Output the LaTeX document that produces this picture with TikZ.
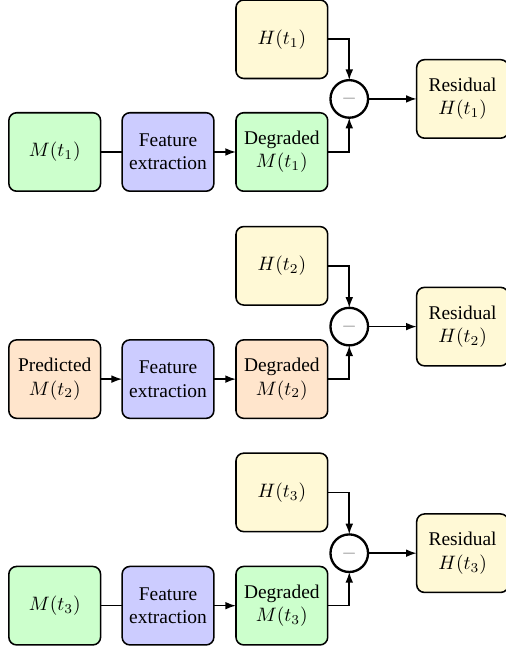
\documentclass[tikz,border=0pt]{standalone}
\usepackage{fontspec}
\setmainfont{Liberation Serif}
\usetikzlibrary{arrows.meta}
\definecolor{cream}{HTML}{FFF9D6}
\begin{document}
\begin{tikzpicture}
  [>={Latex[length=5.5pt,width=4pt]},
   measured/.style={rectangle,rounded corners=4pt,draw=black,fill=green!20,thick,align=center,
                    outer sep=0,minimum width=1.66cm,minimum height=1.42cm},
   feature/.style={rectangle,rounded corners=4pt,draw=black,fill=blue!20,thick,align=center,
                   outer sep=0,minimum width=1.66cm,minimum height=1.42cm},
   predicted/.style={rectangle,rounded corners=4pt,draw=black,fill=orange!20,thick,align=center,
                     outer sep=0,minimum width=1.66cm,minimum height=1.42cm},
   target/.style={rectangle,rounded corners=4pt,draw=black,fill=cream,thick,align=center,
                  outer sep=0,minimum width=1.66cm,minimum height=1.42cm},
   diff/.style={circle,draw=black,very thick,outer sep=0,minimum size=0.68cm,inner sep=0}]
  \useasboundingbox (0,0) rectangle (9.14,-11.78);
  % first time step
  \node[measured] (m1) at (0.99,-2.75) {$M(t_1)$};
  \node[feature] (feat1) at (3.04,-2.75) {Feature\\extraction};
  \node[measured] (deg1) at (5.10,-2.75) {Degraded\\$M(t_1)$};
  \node[target] (h1) at (5.10,-0.71) {$H(t_1)$};
  \node[diff] (sub1) at (6.32,-1.79) {\textcolor{gray}{$-$}};
  \node[target] (res1) at (8.37,-1.79) {Residual\\$H(t_1)$};
  \draw[thick] (m1) -- (feat1);
  \draw[thick,->] (feat1) -- (deg1);
  \draw[thick,->] (h1) -| (sub1);
  \draw[thick,->] (deg1) -| (sub1);
  \draw[thick,->] (sub1) -- (res1);
  % second time step
  \node[predicted] (m2) at (0.99,-6.86) {Predicted\\$M(t_2)$};
  \node[feature] (feat2) at (3.04,-6.86) {Feature\\extraction};
  \node[predicted] (deg2) at (5.10,-6.86) {Degraded\\$M(t_2)$};
  \node[target] (h2) at (5.10,-4.81) {$H(t_2)$};
  \node[diff] (sub2) at (6.32,-5.91) {\textcolor{gray}{$-$}};
  \node[target] (res2) at (8.37,-5.91) {Residual\\$H(t_2)$};
  \draw[thick,->] (m2) -- (feat2);
  \draw[thick,->] (feat2) -- (deg2);
  \draw[thick,->] (h2) -| (sub2);
  \draw[thick,->] (deg2) -| (sub2);
  \draw[thick,->] (sub2) -- (res2);
  % third time step
  \node[measured] (m3) at (0.99,-10.96) {$M(t_3)$};
  \node[feature] (feat3) at (3.04,-10.96) {Feature\\extraction};
  \node[measured] (deg3) at (5.10,-10.96) {Degraded\\$M(t_3)$};
  \node[target] (h3) at (5.10,-8.91) {$H(t_3)$};
  \node[diff] (sub3) at (6.32,-10.01) {\textcolor{gray}{$-$}};
  \node[target] (res3) at (8.37,-10.01) {Residual\\$H(t_3)$};
  \draw[thick] (m3) -- (feat3);
  \draw[thick,->] (feat3) -- (deg3);
  \draw[thick,->] (h3) -| (sub3);
  \draw[thick,->] (deg3) -| (sub3);
  \draw[thick,->] (sub3) -- (res3);
\end{tikzpicture}
\end{document}
